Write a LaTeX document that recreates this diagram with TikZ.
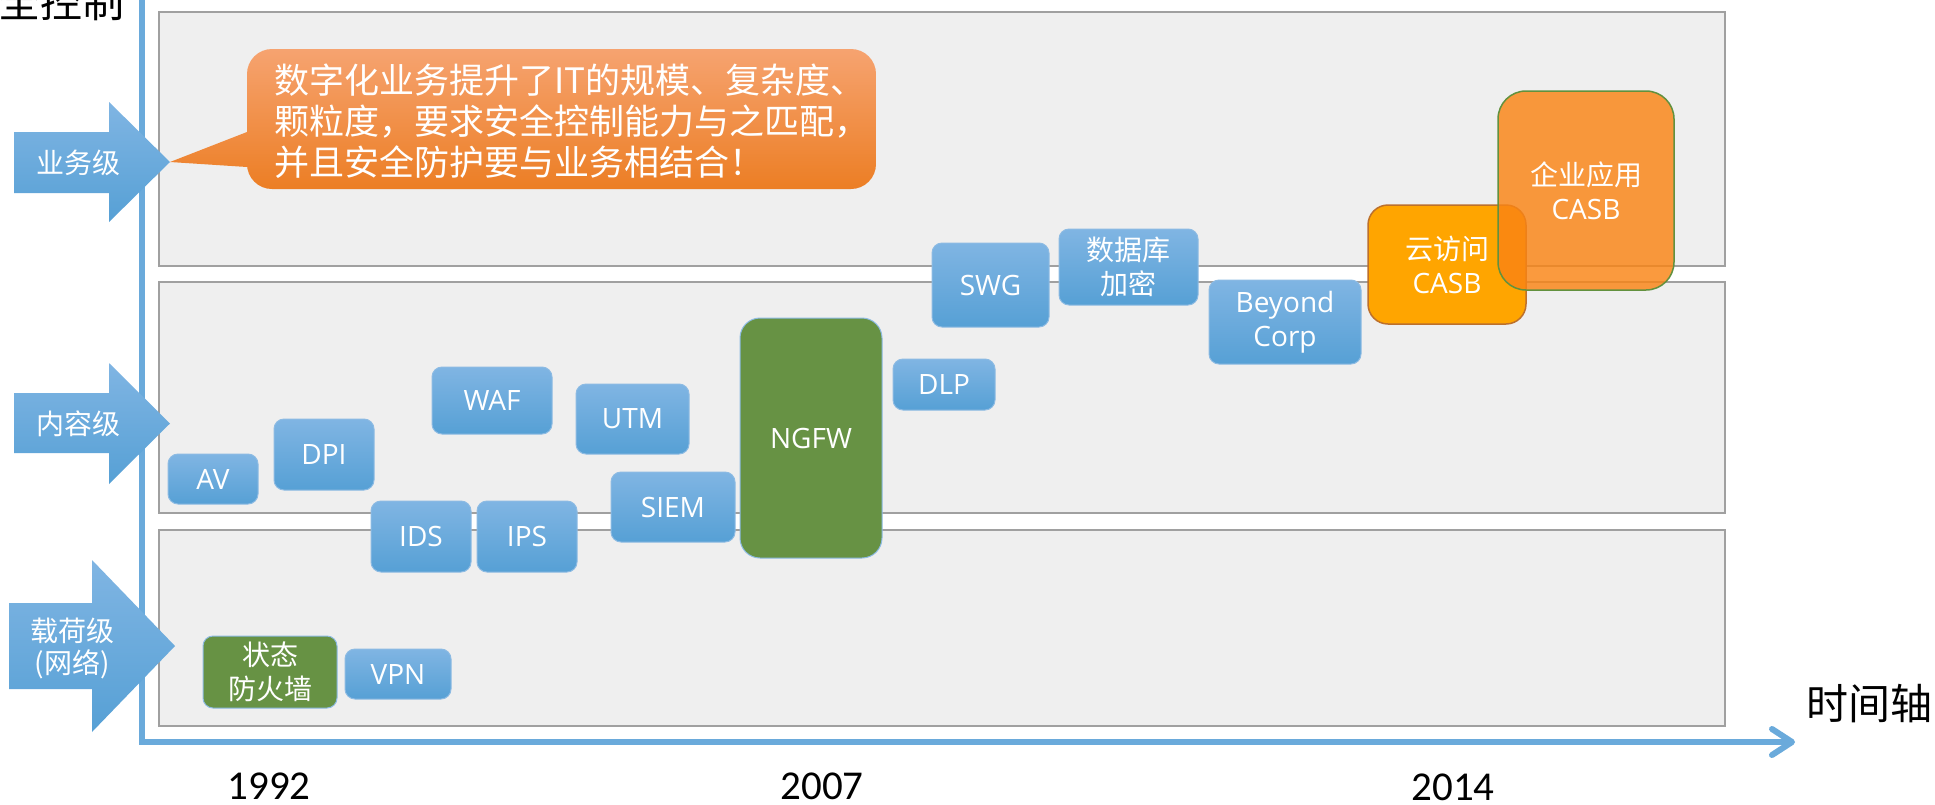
\documentclass[tikz,border=0pt]{standalone}
\usepackage{fontspec}
\setmainfont{Open Sans}
\newfontfamily\cjk{Noto Sans CJK SC}
\newfontfamily\numfont{Carlito}
\usetikzlibrary{arrows.meta}

\definecolor{panelfill}{RGB}{239,239,239}
\definecolor{paneldraw}{RGB}{160,160,160}
\definecolor{axisblue}{RGB}{106,170,219}
\definecolor{bluetop}{RGB}{128,181,227}
\definecolor{bluebot}{RGB}{86,160,213}
\definecolor{blueedge}{RGB}{141,187,227}
\definecolor{leafgreen}{RGB}{103,146,68}
\definecolor{cloudorange}{RGB}{255,165,0}
\definecolor{cloudedge}{RGB}{188,112,44}
\definecolor{appfill}{RGB}{250,132,20}
\definecolor{appedge}{RGB}{98,145,62}
\definecolor{bubbletop}{RGB}{246,163,112}
\definecolor{bubblebot}{RGB}{236,126,36}

\begin{document}
\begin{tikzpicture}[x=1pt,y=-1pt,
  panel/.style={fill=panelfill, draw=paneldraw, line width=2pt},
  axisline/.style={draw=axisblue, line width=6pt, line join=miter,
    {Straight Barb[length=20pt,width=26pt,round]}-{Straight Barb[length=20pt,width=26pt,round]}},
  levelarrow/.style={top color=bluetop, bottom color=bluebot, draw=none},
  levellabel/.style={text=white, align=center, inner sep=0pt,
    font=\cjk\fontsize{28}{32}\selectfont},
  tag/.style={rounded corners=10pt, line width=1pt, inner sep=0pt,
    align=center, text=white, font=\fontsize{28}{34}\selectfont},
  bluebox/.style={tag, draw=blueedge, top color=bluetop, bottom color=bluebot},
  greenbox/.style={tag, draw=blueedge, fill=leafgreen},
  bubbletext/.style={anchor=west, inner sep=0pt, text=white,
    font=\cjk\fontsize{35}{41}\selectfont},
  yearlabel/.style={anchor=base, inner sep=0pt, font=\numfont\fontsize{41}{41}\selectfont},
  axislabel/.style={inner sep=0pt, font=\cjk\fontsize{42}{42}\selectfont}
]
\useasboundingbox (0,0) rectangle (1935,804);
\clip (0,0) rectangle (1935,804);
\fill[white] (0,0) rectangle (1935,804);

% three layer bands
\path[panel] (159,12) rectangle (1725,266);
\path[panel] (159,282) rectangle (1725,513);
\path[panel] (159,530) rectangle (1725,726);

% axes
\coordinate (ytop) at (142,-30);
\coordinate (origin) at (142,742);
\coordinate (xend) at (1795,742);
\draw[axisline] (ytop) -- (origin) -- (xend);

\node[axislabel, anchor=base west] (ylab) at (-2,17) {全控制};
\node[axislabel] (xlab) at (1869,704) {时间轴};

\node[yearlabel] (y1992) at (269,799) {1992};
\node[yearlabel] (y2007) at (822,799) {2007};
\node[yearlabel] (y2014) at (1453,800) {2014};

% layer arrows
\path[levelarrow] (14,132) -- (109,132) -- (109,102) -- (170,162) -- (109,222) -- (109,193) -- (14,193) -- cycle;
\node[levellabel] (lvbiz) at (78,163) {业务级};
\path[levelarrow] (14,393) -- (109,393) -- (109,363) -- (170,423.5) -- (109,484) -- (109,453) -- (14,453) -- cycle;
\node[levellabel] (lvcontent) at (78,424) {内容级};
\path[levelarrow] (9,603) -- (92,603) -- (92,560) -- (175,646) -- (92,732) -- (92,689) -- (9,689) -- cycle;
\node[levellabel] (lvpayload) at (72,648) {载荷级\\(网络)};

% callout bubble
\path[top color=bubbletop, bottom color=bubblebot]
  (247,167) -- (247,189-25) arc[start angle=180, end angle=90, radius=25]
  -- (876-25,189) arc[start angle=90, end angle=0, radius=25]
  -- (876,49+25) arc[start angle=0, end angle=-90, radius=25]
  -- (247+25,49) arc[start angle=-90, end angle=-180, radius=25]
  -- (247,132) -- (170,162) -- cycle;
\node[bubbletext] (bl1) at (274,80) {数字化业务提升了IT的规模、复杂度、};
\node[bubbletext] (bl2) at (274,121) {颗粒度，要求安全控制能力与之匹配，};
\node[bubbletext] (bl3) at (274,162) {并且安全防护要与业务相结合！};

% technology boxes
\node[bluebox, minimum width=90pt, minimum height=50pt] (av) at (213,479) {AV};
\node[bluebox, minimum width=100pt, minimum height=71pt] (dpi) at (324,454.5) {DPI};
\node[bluebox, minimum width=120pt, minimum height=67pt] (waf) at (492,400.5) {WAF};
\node[bluebox, minimum width=113pt, minimum height=70pt] (utm) at (632.5,419) {UTM};
\node[bluebox, minimum width=124pt, minimum height=70pt] (siem) at (673,507) {SIEM};
\node[bluebox, minimum width=100pt, minimum height=71pt] (ids) at (421,536.5) {IDS};
\node[bluebox, minimum width=100pt, minimum height=71pt] (ips) at (527,536.5) {IPS};
\node[greenbox, rounded corners=20pt, minimum width=142pt, minimum height=240pt] (ngfw) at (811,438) {NGFW};
\node[bluebox, minimum width=102pt, minimum height=51pt] (dlp) at (944,384.5) {DLP};
\node[bluebox, minimum width=117pt, minimum height=84pt] (swg) at (990.5,285) {SWG};
\node[bluebox, minimum width=139pt, minimum height=76pt] (dbenc) at (1128.5,267) {{\cjk 数据库}\\{\cjk 加密}};
\node[bluebox, minimum width=152pt, minimum height=84pt] (beyond) at (1285,322) {Beyond\\Corp};
\node[greenbox, minimum width=134pt, minimum height=72pt] (sfw) at (270,672) {{\cjk 状态}\\{\cjk 防火墙}};
\node[bluebox, minimum width=106pt, minimum height=50pt] (vpn) at (398,674) {VPN};

\node[tag, rounded corners=20pt, fill=cloudorange, draw=cloudedge, line width=1.5pt,
  minimum width=158pt, minimum height=119pt] (cloudcasb) at (1447,264.5) {{\cjk 云访问}\\CASB};
\node[tag, rounded corners=28pt, fill=appfill, fill opacity=0.82, text opacity=1,
  draw=appedge, draw opacity=1, line width=1.5pt,
  minimum width=176pt, minimum height=199pt] (appcasb) at (1586,190.5) {{\cjk 企业应用}\\CASB};
\end{tikzpicture}
\end{document}
